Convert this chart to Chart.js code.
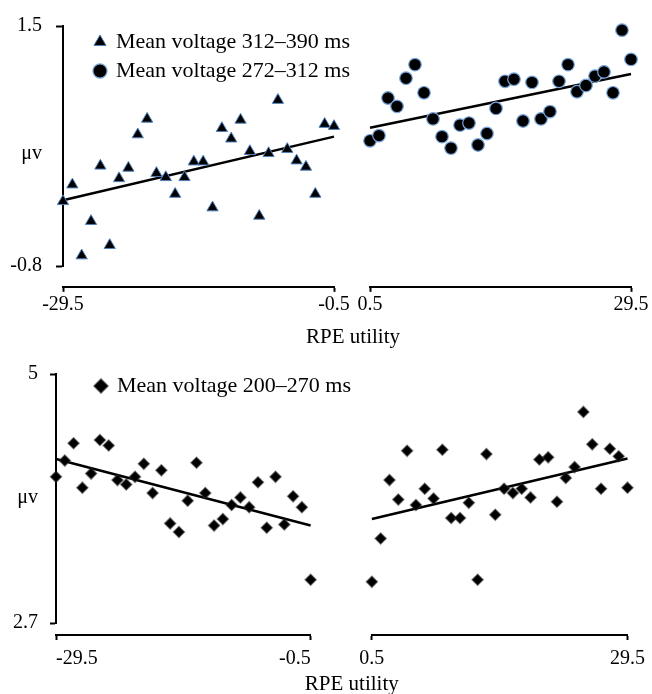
<!DOCTYPE html>
<html><head><meta charset="utf-8">
<script src="https://cdn.jsdelivr.net/npm/chart.js@4.4.1/dist/chart.umd.min.js"></script>
<style>
html,body{margin:0;padding:0;background:#fff;}
#wrap{position:relative;width:652px;height:694px;overflow:hidden;background:#fff;}
canvas{position:absolute;left:0;}
</style></head><body>
<div id="wrap">
<canvas id="topChart" width="652" height="350" style="top:0px"></canvas>
<canvas id="botChart" width="652" height="350" style="top:350px"></canvas>
</div>
<script>
// ---------- data ----------
const xLeft = [-29.5,-28.5,-27.5,-26.5,-25.5,-24.5,-23.5,-22.5,-21.5,-20.5,-19.5,-18.5,-17.5,-16.5,-15.5,-14.5,-13.5,-12.5,-11.5,-10.5,-9.5,-8.5,-7.5,-6.5,-5.5,-4.5,-3.5,-2.5,-1.5,-0.5];
const xRight = [0.5,1.5,2.5,3.5,4.5,5.5,6.5,7.5,8.5,9.5,10.5,11.5,12.5,13.5,14.5,15.5,16.5,17.5,18.5,19.5,20.5,21.5,22.5,23.5,24.5,25.5,26.5,27.5,28.5,29.5];

const triY  = [-0.18,-0.02,-0.70,-0.37,0.16,-0.60,0.04,0.14,0.46,0.61,0.09,0.05,-0.11,0.05,0.20,0.20,-0.24,0.52,0.42,0.60,0.30,-0.32,0.28,0.79,0.32,0.21,0.15,-0.11,0.56,0.54];
const circY = [0.40,0.45,0.81,0.73,1.00,1.13,0.86,0.61,0.44,0.33,0.55,0.57,0.36,0.47,0.71,0.97,0.99,0.59,0.96,0.61,0.68,0.97,1.13,0.87,0.93,1.02,1.06,0.86,1.46,1.18];
const diaLeftY  = [4.05,4.20,4.36,3.95,4.08,4.39,4.34,4.02,3.98,4.05,4.17,3.90,4.11,3.62,3.54,3.83,4.18,3.90,3.60,3.66,3.79,3.86,3.77,4.00,3.58,4.05,3.61,3.87,3.77,3.10];
const diaRightY = [3.08,3.48,4.02,3.84,4.29,3.79,3.94,3.85,4.30,3.67,3.67,3.81,3.10,4.26,3.70,3.94,3.90,3.94,3.86,4.21,4.23,3.82,4.04,4.14,4.65,4.35,3.94,4.31,4.24,3.95];

const trendXLeft  = [-29.5, -0.5];
const trendXRight = [0.5, 29.5];
const trendTriY  = [-0.17, 0.44];
const trendCircY = [0.525, 1.04];
const trendDiaLeftY  = [4.215, 3.60];
const trendDiaRightY = [3.66, 4.22];

const xTicksLeft  = [-29.5, -0.5];
const xTicksRight = [0.5, 29.5];
const yTicksTop = [-0.8, 0.28, 1.5];
const yLabelsTop = ['-0.8', 'μv', '1.5'];
const yTicksBottom = [2.7, 3.86, 5];
const yLabelsBottom = ['2.7', 'μv', '5'];

const legendTop = ['Mean voltage 312–390 ms', 'Mean voltage 272–312 ms'];
const legendBottom = ['Mean voltage 200–270 ms'];
const xTitle = 'RPE utility';

// ---------- helpers ----------
const FAMILY = "'Liberation Serif','Times New Roman',serif";
const pts = (xs, ys) => xs.map((x, i) => ({x: x, y: ys[i]}));

function placeBlocks(dx, dy, tdx) {
  return {
    id: 'placeBlocks',
    afterLayout(chart) {
      const lg = chart.legend, ca = chart.chartArea, tb = chart.titleBlock;
      if (lg) {
        const w = lg.width;
        lg.left = ca.left + dx; lg.right = lg.left + w;
        lg.top = ca.top + dy; lg.bottom = ca.bottom;
      }
      if (tb) { tb.left += tdx; tb.right += tdx; }
    }
  };
}

function buildScales(g) {
  const tickFont = {family: FAMILY, size: 20};
  return {
    y: {
      type: 'linear', position: 'left', stack: 'v', stackWeight: g.yW, weight: 2,
      min: g.yTicks[0], max: g.yTicks[g.yTicks.length - 1], bounds: 'data',
      afterFit: s => { s.width = g.yAxisW; },
      afterBuildTicks: s => { s.ticks = g.yTicks.map(v => ({value: v})); },
      ticks: {autoSkip: false, callback: (v, i) => g.yLabels[i], font: tickFont, color: '#000', padding: g.yTickPad},
      grid: {drawOnChartArea: false, drawTicks: true, tickLength: g.yTickLen, tickWidth: 2,
             tickColor: ctx => (ctx.index === 1 ? 'rgba(0,0,0,0)' : '#000')},
      border: {display: true, color: '#000', width: 2}
    },
    yPad: {
      type: 'linear', position: 'left', stack: 'v', stackWeight: g.yPadW, weight: 1,
      afterFit: s => { s.width = g.yAxisW; },
      ticks: {display: false}, grid: {display: false}, border: {display: false}
    },
    xL: {
      type: 'linear', position: 'bottom', stack: 'h', stackWeight: g.xLW, weight: 1,
      min: xTicksLeft[0], max: xTicksLeft[1], bounds: 'data',
      afterFit: s => { s.height = g.xH; },
      afterBuildTicks: s => { s.ticks = xTicksLeft.map(v => ({value: v})); },
      ticks: {autoSkip: false, maxRotation: 0, callback: v => String(v), font: tickFont, color: '#000',
              padding: g.xTickPad, align: g.leftAlign},
      grid: {drawOnChartArea: false, tickLength: 5, tickWidth: 2, tickColor: '#000'},
      border: {display: true, color: '#000', width: 2}
    },
    xGap: {
      type: 'linear', position: 'bottom', stack: 'h', stackWeight: g.xGapW, weight: 2,
      afterFit: s => { s.height = g.xH; },
      ticks: {display: false}, grid: {display: false}, border: {display: false}
    },
    xR: {
      type: 'linear', position: 'bottom', stack: 'h', stackWeight: g.xRW, weight: 3,
      min: xTicksRight[0], max: xTicksRight[1], bounds: 'data',
      afterFit: s => { s.height = g.xH; },
      afterBuildTicks: s => { s.ticks = xTicksRight.map(v => ({value: v})); },
      ticks: {autoSkip: false, maxRotation: 0, callback: v => String(v), font: tickFont, color: '#000',
              padding: g.xTickPad, align: 'center'},
      grid: {drawOnChartArea: false, tickLength: 5, tickWidth: 2, tickColor: '#000'},
      border: {display: true, color: '#000', width: 2}
    }
  };
}

function baseOptions(g) {
  return {
    responsive: false, animation: false, events: [],
    layout: {padding: {top: g.padTop, right: g.padRight, left: 0, bottom: 0}},
    scales: buildScales(g),
    plugins: {
      tooltip: {enabled: false},
      title: {display: true, text: xTitle, position: 'bottom', fullSize: false, align: 'center',
              color: '#000', font: {family: FAMILY, size: 21, weight: 'normal'},
              padding: {top: 0, bottom: g.titlePad}},
      legend: {
        position: 'chartArea', align: 'start',
        labels: {usePointStyle: true, boxWidth: 10, boxHeight: 10, padding: 7, color: '#000',
                 font: {family: FAMILY, size: 22},
                 filter: item => item.text !== ''}
      }
    }
  };
}

// ---------- top panel ----------
const gTop = {padTop: 23, padRight: 21, yAxisW: 63, yW: 243, yPadW: 21, yTicks: yTicksTop, yLabels: yLabelsTop,
  yTickPad: 14, yTickLen: 7, xLW: 271, xGapW: 36, xRW: 261, xH: 38, xTickPad: 1, titlePad: 0, leftAlign: 'center'};
new Chart(document.getElementById('topChart'), {
  type: 'scatter',
  data: {datasets: [
    {label: legendTop[0], data: pts(xLeft, triY), xAxisID: 'xL', yAxisID: 'y', pointStyle: 'triangle',
     pointRadius: 6.5, backgroundColor: '#000', borderColor: '#4f81bd', borderWidth: 1, clip: false},
    {label: legendTop[1], data: pts(xRight, circY), xAxisID: 'xR', yAxisID: 'y', pointStyle: 'circle',
     pointRadius: 6.3, backgroundColor: '#000', borderColor: '#79a6dc', borderWidth: 1.2, clip: false},
    {label: '', data: pts(trendXLeft, trendTriY), xAxisID: 'xL', yAxisID: 'y', showLine: true,
     pointRadius: 0, borderColor: '#000', borderWidth: 2.5, clip: false},
    {label: '', data: pts(trendXRight, trendCircY), xAxisID: 'xR', yAxisID: 'y', showLine: true,
     pointRadius: 0, borderColor: '#000', borderWidth: 2.5, clip: false}
  ]},
  options: baseOptions(gTop),
  plugins: [placeBlocks(25, -2, 6)]
});

// ---------- bottom panel ----------
const gBot = {padTop: 24, padRight: 17, yAxisW: 56, yW: 249, yPadW: 12, yTicks: yTicksBottom, yLabels: yLabelsBottom,
  yTickPad: 12, yTickLen: 6, xLW: 258, xGapW: 62, xRW: 259, xH: 36.4, xTickPad: 7, titlePad: 3.4, leftAlign: 'inner'};
new Chart(document.getElementById('botChart'), {
  type: 'scatter',
  data: {datasets: [
    {label: legendBottom[0], data: pts(xLeft, diaLeftY), xAxisID: 'xL', yAxisID: 'y', pointStyle: 'rectRot',
     pointRadius: 5.5, backgroundColor: '#000', borderColor: 'rgba(40,40,40,0.55)', borderWidth: 1.5, clip: false},
    {label: '', data: pts(xRight, diaRightY), xAxisID: 'xR', yAxisID: 'y', pointStyle: 'rectRot',
     pointRadius: 5.5, backgroundColor: '#000', borderColor: 'rgba(40,40,40,0.55)', borderWidth: 1.5, clip: false},
    {label: '', data: pts(trendXLeft, trendDiaLeftY), xAxisID: 'xL', yAxisID: 'y', showLine: true,
     pointRadius: 0, borderColor: '#000', borderWidth: 2.5, clip: false},
    {label: '', data: pts(trendXRight, trendDiaRightY), xAxisID: 'xR', yAxisID: 'y', showLine: true,
     pointRadius: 0, borderColor: '#000', borderWidth: 2.5, clip: false}
  ]},
  options: baseOptions(gBot),
  plugins: [placeBlocks(33, -6, 10)]
});
</script>
</body></html>
